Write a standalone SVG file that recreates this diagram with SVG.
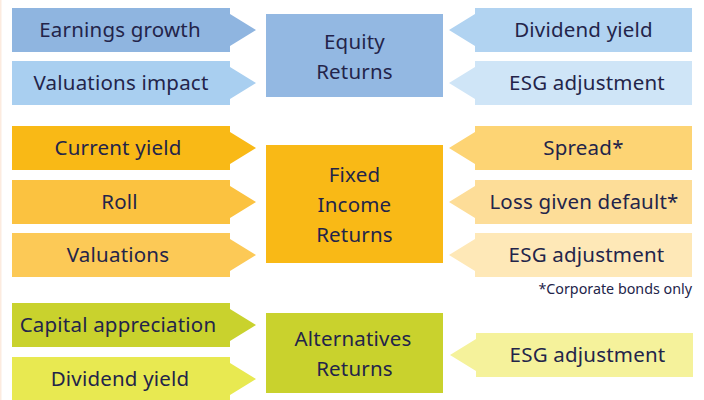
<svg xmlns="http://www.w3.org/2000/svg" width="704" height="400" viewBox="0 0 704 400">
  <style>
    .lbl { font-family: "Noto Sans", "Open Sans", sans-serif; font-size: 20.5px; letter-spacing: 0.2px; fill: #23244A; text-anchor: middle; }
    .note { font-family: "Noto Sans", "Open Sans", sans-serif; font-size: 14.3px; fill: #23244A; text-anchor: end; }
  </style>
  <rect x="0" y="0" width="704" height="400" fill="#FFFFFF"/>
  <rect x="0" y="0" width="1.5" height="400" fill="#FCEBDF"/>

  <!-- Equity -->
  <g id="earnings-growth">
    <path d="M12 8H230V14L256 30L230 46V52H12Z" fill="#8FB5E0"/>
    <text class="lbl" x="120" y="37">Earnings growth</text>
  </g>
  <g id="valuations-impact">
    <path d="M12 61H230V67L256 83L230 99V105H12Z" fill="#A9CFF0"/>
    <text class="lbl" x="121" y="90">Valuations impact</text>
  </g>
  <g id="equity-returns">
    <rect x="266" y="14" width="177" height="83" fill="#93B8E2"/>
    <text class="lbl" x="354.5" y="49">Equity</text>
    <text class="lbl" x="354.5" y="79">Returns</text>
  </g>
  <g id="equity-dividend-yield">
    <path d="M692 8V52H475V46L449 30L475 14V8Z" fill="#B1D3F1"/>
    <text class="lbl" x="583.5" y="37">Dividend yield</text>
  </g>
  <g id="equity-esg">
    <path d="M692 61V105H475V99L449 83L475 67V61Z" fill="#CFE5F7"/>
    <text class="lbl" x="587" y="90">ESG adjustment</text>
  </g>

  <!-- Fixed income -->
  <g id="current-yield">
    <path d="M12 126H230V132L256 148L230 164V170H12Z" fill="#F9B916"/>
    <text class="lbl" x="118" y="155">Current yield</text>
  </g>
  <g id="roll">
    <path d="M12 180H230V186L256 202L230 218V224H12Z" fill="#FBC240"/>
    <text class="lbl" x="119.5" y="209">Roll</text>
  </g>
  <g id="fi-valuations">
    <path d="M12 233H230V239L256 255L230 271V277H12Z" fill="#FCC956"/>
    <text class="lbl" x="118" y="262">Valuations</text>
  </g>
  <g id="fixed-income-returns">
    <rect x="266" y="145" width="177" height="118" fill="#F9B916"/>
    <text class="lbl" x="354.5" y="182">Fixed</text>
    <text class="lbl" x="354.5" y="212">Income</text>
    <text class="lbl" x="354.5" y="242">Returns</text>
  </g>
  <g id="spread">
    <path d="M692 126V170H475V164L449 148L475 132V126Z" fill="#FDD474"/>
    <text class="lbl" x="583.5" y="155">Spread*</text>
  </g>
  <g id="loss-given-default">
    <path d="M692 180V224H475V218L449 202L475 186V180Z" fill="#FDDD98"/>
    <text class="lbl" x="584" y="209">Loss given default*</text>
  </g>
  <g id="fi-esg">
    <path d="M692 233V277H475V271L449 255L475 239V233Z" fill="#FEE8B7"/>
    <text class="lbl" x="586.5" y="262">ESG adjustment</text>
  </g>
  <text class="note" x="692" y="294">*Corporate bonds only</text>

  <!-- Alternatives -->
  <g id="capital-appreciation">
    <path d="M12 303H230V309L256 325L230 341V347H12Z" fill="#C9D22D"/>
    <text class="lbl" x="118" y="332">Capital appreciation</text>
  </g>
  <g id="alt-dividend-yield">
    <path d="M12 357H230V363L256 379L230 395V401H12Z" fill="#E8E951"/>
    <text class="lbl" x="120" y="386">Dividend yield</text>
  </g>
  <g id="alternatives-returns">
    <rect x="266" y="313" width="177" height="80" fill="#C9D22D"/>
    <text class="lbl" x="353" y="346">Alternatives</text>
    <text class="lbl" x="354.5" y="376">Returns</text>
  </g>
  <g id="alt-esg">
    <path d="M693 333V377H476V371L450 355L476 339V333Z" fill="#F5F29B"/>
    <text class="lbl" x="587.5" y="362">ESG adjustment</text>
  </g>

  <g id="connectors"/>
</svg>
